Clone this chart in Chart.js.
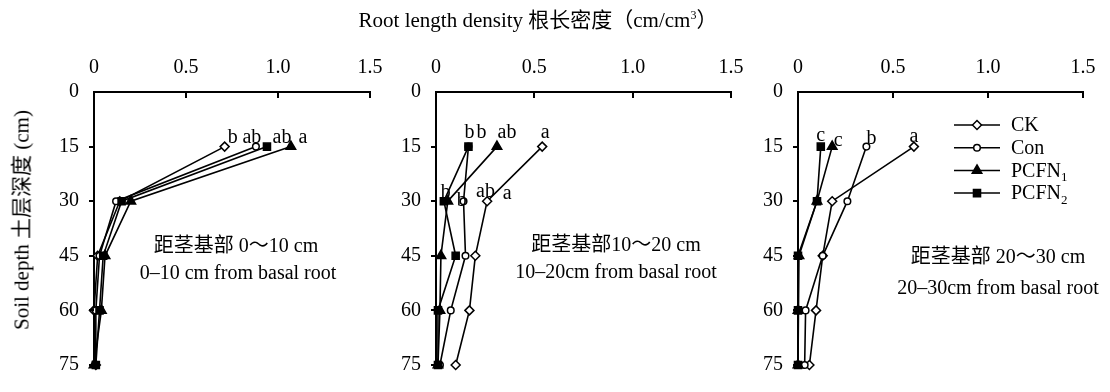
<!DOCTYPE html>
<html>
<head>
<meta charset="utf-8">
<script src="https://cdn.jsdelivr.net/npm/chart.js@4.4.1/dist/chart.umd.min.js"></script>
<style>
  html, body { margin: 0; padding: 0; background: #fff; }
  #wrap { position: relative; width: 1110px; height: 392px; overflow: hidden; background: #fff; }
  #wrap canvas { position: absolute; left: 0; top: 0; }
  .txt {
    position: absolute; white-space: nowrap; color: #000; line-height: 1;
    font-family: 'Liberation Serif', 'Times New Roman', 'Noto Sans CJK SC', serif;
    font-size: 20px; transform: translate(-50%, -50%);
  }
  .txt sup { font-size: 12px; vertical-align: 8px; line-height: 0; }
  .ylab { font-size: 21px; transform: translate(-50%, -50%) rotate(-90deg); }
</style>
</head>
<body>
<div id="wrap">
  <canvas id="pNear" width="1110" height="392"></canvas>
  <canvas id="pMid" width="1110" height="392"></canvas>
  <canvas id="pFar" width="1110" height="392"></canvas>

  <div class="txt" style="left:538px; top:20px; font-size:21px;">Root length density 根长密度（cm/cm<sup>3</sup>）</div>
  <div class="txt ylab" style="left:22px; top:220px;">Soil depth 土层深度 (cm)</div>

  <div class="txt" style="left:236px; top:245px;">距茎基部 0～10 cm</div>
  <div class="txt" style="left:238px; top:272px;">0–10 cm from basal root</div>

  <div class="txt" style="left:616px; top:244px;">距茎基部10～20 cm</div>
  <div class="txt" style="left:616px; top:271px;">10–20cm from basal root</div>

  <div class="txt" style="left:998px; top:256px;">距茎基部 20～30 cm</div>
  <div class="txt" style="left:998px; top:287px;">20–30cm from basal root</div>
</div>

<script>
// Soil depths (cm) and treatment names
const depths = [15, 30, 45, 60, 75];
const seriesNames = ['CK', 'Con', 'PCFN₁', 'PCFN₂'];
const xTickLabels = ['0', '0.5', '1.0', '1.5'];
const yTickLabels = ['0', '15', '30', '45', '60', '75'];

// Root length density (cm/cm³), 0–10 cm from basal root
const ckNear    = [0.71, 0.14, 0.02, 0.00, 0.01];
const conNear   = [0.88, 0.12, 0.03, 0.01, 0.01];
const pcfn1Near = [1.07, 0.20, 0.06, 0.04, 0.00];
const pcfn2Near = [0.94, 0.15, 0.05, 0.03, 0.01];

// 10–20 cm from basal root
const ckMid    = [0.54, 0.26, 0.20, 0.17, 0.10];
const conMid   = [0.165, 0.14, 0.15, 0.075, 0.02];
const pcfn1Mid = [0.31, 0.06, 0.025, 0.02, 0.01];
const pcfn2Mid = [0.165, 0.04, 0.10, 0.01, 0.01];

// 20–30 cm from basal root
const ckFar    = [0.61, 0.18, 0.13, 0.095, 0.06];
const conFar   = [0.36, 0.26, 0.13, 0.04, 0.035];
const pcfn1Far = [0.18, 0.10, 0.005, 0.0, 0.0];
const pcfn2Far = [0.12, 0.10, 0.0, 0.0, 0.0];

// Significance letters (series order CK, Con, PCFN1, PCFN2)
const letters15Near = ['b', 'ab', 'a', 'ab'];
const letters15Mid  = ['a', 'b', 'ab', 'b'];
const letters30Mid  = ['a', 'ab', 'b', 'b'];
const letters15Far  = ['a', 'b', 'c', 'c'];

// ---------- drawing ----------
const FONT = "'Liberation Serif', 'Times New Roman', serif";
Chart.defaults.font.family = FONT;
Chart.defaults.font.size = 20;
Chart.defaults.color = '#000';

const labelFor = (list, v) => list.find(l => Number(l) === v) ?? '';

// Open markers sit underneath, filled markers on top (lower order = drawn later)
const markerStyles = [
  { pointStyle: 'rectRot',  radius: 4.5, fill: '#fff', order: 4 },
  { pointStyle: 'circle',   radius: 3.3, fill: '#fff', order: 3 },
  { pointStyle: 'triangle', radius: 5.5, fill: '#000', order: 2 },
  { pointStyle: 'rect',     radius: 5,   fill: '#000', order: 1 }
];

// Short tick marks: x ticks point into the plot, y ticks point outward
const axisTicks = {
  id: 'axisTicks',
  afterDraw(chart) {
    const { ctx, chartArea: a, scales: { x, y } } = chart;
    ctx.save();
    ctx.strokeStyle = '#000';
    ctx.lineWidth = 2;
    x.ticks.forEach(t => {
      if (t.value === 0) return;
      const px = Math.round(x.getPixelForValue(t.value));
      ctx.beginPath(); ctx.moveTo(px, a.top); ctx.lineTo(px, a.top + 6); ctx.stroke();
    });
    y.ticks.forEach(t => {
      if (t.value === 0) return;
      const py = Math.round(y.getPixelForValue(t.value));
      ctx.beginPath(); ctx.moveTo(a.left, py); ctx.lineTo(a.left - 5, py); ctx.stroke();
    });
    ctx.restore();
  }
};

// Significance letters next to the points
const letterMarks = {
  id: 'letterMarks',
  afterDatasetsDraw(chart, args, opts) {
    const { ctx } = chart;
    ctx.save();
    ctx.font = '20px ' + FONT;
    ctx.fillStyle = '#000';
    ctx.textAlign = 'center';
    ctx.textBaseline = 'middle';
    (opts.sets || []).forEach(set => {
      set.letters.forEach((txt, si) => {
        const pt = chart.getDatasetMeta(si).data[set.depthIndex];
        const [dx, dy] = set.shift[si];
        ctx.fillText(txt, pt.x + dx, pt.y + dy);
      });
    });
    ctx.restore();
  }
};

// Legend: line segment with marker, name with subscript digit
const lineLegend = {
  id: 'lineLegend',
  afterDraw(chart, args, opts) {
    if (!opts.show) return;
    const { ctx } = chart;
    const subMap = { '₁': '1', '₂': '2' };
    ctx.save();
    chart.data.datasets.forEach((ds, i) => {
      const y = opts.top + i * opts.gap;
      ctx.strokeStyle = '#000';
      ctx.lineWidth = 1.5;
      ctx.beginPath(); ctx.moveTo(opts.x0, y); ctx.lineTo(opts.x1, y); ctx.stroke();
      ctx.fillStyle = ds.pointBackgroundColor;
      ctx.strokeStyle = '#000';
      Chart.helpers.drawPoint(ctx, {
        pointStyle: ds.pointStyle, radius: ds.pointRadius, rotation: 0, borderWidth: 1.5
      }, (opts.x0 + opts.x1) / 2, y);
      const base = ds.label.replace(/[₀-₉]/g, '');
      const sub = ds.label.split('').filter(c => subMap[c]).map(c => subMap[c]).join('');
      ctx.fillStyle = '#000';
      ctx.textAlign = 'left';
      ctx.textBaseline = 'middle';
      ctx.font = '20px ' + FONT;
      ctx.fillText(base, opts.textX, y + 1);
      if (sub) {
        const w = ctx.measureText(base).width;
        ctx.font = '13px ' + FONT;
        ctx.fillText(sub, opts.textX + w, y + 7);
      }
    });
    ctx.restore();
  }
};

function makePanel(canvasId, values, area, letterSets, legendOpts) {
  const yAxisW = 40, xAxisH = 40;
  const datasets = values.map((vals, si) => ({
    label: seriesNames[si],
    data: depths.map((d, k) => ({ x: vals[k], y: d })),
    order: markerStyles[si].order,
    borderColor: '#000',
    borderWidth: 1.6,
    tension: 0,
    fill: false,
    clip: false,
    pointStyle: markerStyles[si].pointStyle,
    pointRadius: markerStyles[si].radius,
    pointBackgroundColor: markerStyles[si].fill,
    pointBorderColor: '#000',
    pointBorderWidth: 1.5
  }));
  return new Chart(document.getElementById(canvasId), {
    type: 'line',
    data: { datasets },
    options: {
      responsive: false,
      animation: false,
      devicePixelRatio: 1,
      events: [],
      layout: {
        padding: {
          left: area.left - yAxisW,
          top: area.top - xAxisH,
          right: 1110 - area.right,
          bottom: 392 - area.bottom
        }
      },
      plugins: {
        legend: { display: false },
        tooltip: { enabled: false },
        letterMarks: { sets: letterSets },
        lineLegend: legendOpts || { show: false }
      },
      scales: {
        x: {
          type: 'linear', position: 'top', min: 0, max: 1.5,
          ticks: { stepSize: 0.5, padding: 12, color: '#000',
                   callback: v => labelFor(xTickLabels, v) },
          grid: { display: false, drawTicks: false },
          border: { display: true, color: '#000', width: 2 },
          afterFit: s => { s.height = xAxisH; }
        },
        y: {
          type: 'linear', reverse: true, min: 0, max: 75,
          ticks: { stepSize: 15, padding: 15, color: '#000',
                   callback: v => labelFor(yTickLabels, v) },
          grid: { display: false, drawTicks: false },
          border: { display: true, color: '#000', width: 2 },
          afterFit: s => { s.width = yAxisW; }
        }
      }
    },
    plugins: [axisTicks, letterMarks, lineLegend]
  });
}

makePanel('pNear', [ckNear, conNear, pcfn1Near, pcfn2Near],
  { left: 94, right: 370, top: 92, bottom: 379 },
  [{ depthIndex: 0, letters: letters15Near,
     shift: [[8, -9], [-4, -9], [12, -9], [15, -9]] }]);

makePanel('pMid', [ckMid, conMid, pcfn1Mid, pcfn2Mid],
  { left: 436, right: 731, top: 92, bottom: 379 },
  [{ depthIndex: 0, letters: letters15Mid,
     shift: [[3, -14], [13, -14], [10, -14], [1, -14]] },
   { depthIndex: 1, letters: letters30Mid,
     shift: [[20, -7], [22, -9], [14, 0], [2, -8]] }]);

makePanel('pFar', [ckFar, conFar, pcfn1Far, pcfn2Far],
  { left: 798, right: 1083, top: 92, bottom: 379 },
  [{ depthIndex: 0, letters: letters15Far,
     shift: [[0, -10], [5, -8], [6, -6], [0, -11]] }],
  { show: true, x0: 954, x1: 1000, textX: 1011, top: 125, gap: 22.7 });
</script>
</body>
</html>
